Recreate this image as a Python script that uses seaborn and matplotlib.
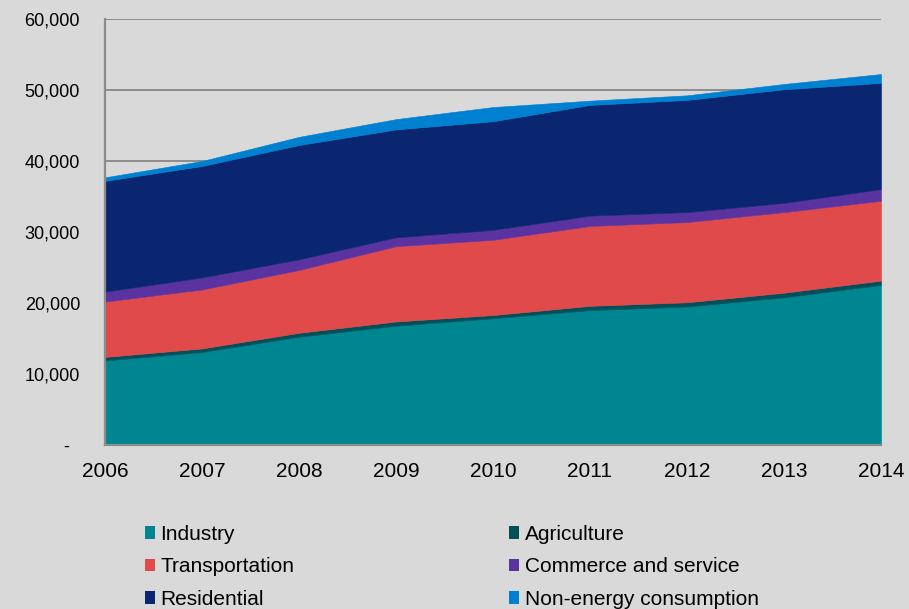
import matplotlib
matplotlib.use("Agg")
import matplotlib.pyplot as plt
from matplotlib.patches import Patch
from matplotlib.ticker import FuncFormatter, MultipleLocator
import seaborn as sns

# Final energy consumption by sector (thousand tce)
years = [2006, 2007, 2008, 2009, 2010, 2011, 2012, 2013, 2014]
industry = [11900, 13100, 15250, 16800, 17850, 19000, 19500, 20800, 22550]
agriculture = [500, 500, 550, 600, 450, 600, 600, 650, 600]
transportation = [7800, 8300, 8850, 10600, 10600, 11250, 11300, 11350, 11250]
commerce = [1400, 1700, 1500, 1250, 1400, 1450, 1400, 1300, 1650]
residential = [15600, 15700, 16100, 15200, 15300, 15600, 15800, 16000, 14950]
non_energy = [500, 700, 1150, 1450, 2000, 600, 650, 750, 1250]

series_names = ["Industry", "Agriculture", "Transportation",
                "Commerce and service", "Residential", "Non-energy consumption"]
series_values = [industry, agriculture, transportation, commerce, residential, non_energy]
series_colors = ["#008691", "#00505a", "#e04a4a", "#5b33a0", "#0a2670", "#0080d0"]

BG = "#d9d9d9"
GRID = "#8c8c8c"

sns.set_theme(style="whitegrid")
plt.rcParams["font.family"] = ["Liberation Sans", "DejaVu Sans"]

fig = plt.figure(figsize=(9.09, 6.09), dpi=100, facecolor=BG)
ax = fig.add_axes([105 / 909, 1 - 445 / 609, (881 - 105) / 909, (445 - 19) / 609])
ax.set_facecolor(BG)

ax.stackplot(years, *series_values, colors=series_colors, labels=series_names,
             linewidth=0.4, edgecolor="face", zorder=3)

ax.set_xlim(years[0], years[-1])
ax.set_ylim(0, 60000)
ax.set_xticks(years)
ax.set_xticklabels([str(y) for y in years])
ax.yaxis.set_major_locator(MultipleLocator(10000))
ax.yaxis.set_major_formatter(FuncFormatter(lambda v, p: "-  " if v == 0 else f"{int(v):,}"))

ax.grid(axis="y", color=GRID, linewidth=1.4, zorder=1)
ax.grid(axis="x", visible=False)
for side in ["top", "right"]:
    ax.spines[side].set_visible(False)
for side in ["left", "bottom"]:
    ax.spines[side].set_visible(True)
    ax.spines[side].set_color(GRID)
    ax.spines[side].set_linewidth(1.6)
    ax.spines[side].set_zorder(4)

ax.tick_params(axis="y", length=0, pad=18, labelsize=13, colors="black")
ax.tick_params(axis="x", length=0, pad=12, labelsize=15, colors="black")

# Two-column legend below the plot
handles = [Patch(facecolor=c, edgecolor="none") for c in series_colors]
left_idx = [0, 2, 4]
right_idx = [1, 3, 5]
for idx, xpos in [(left_idx, 145 / 909), (right_idx, 509 / 909)]:
    leg = fig.legend([handles[i] for i in idx], [series_names[i] for i in idx],
                     loc="center left", bbox_to_anchor=(xpos, 1 - 567 / 609),
                     frameon=False, fontsize=15, borderpad=0, borderaxespad=0,
                     handlelength=0.5, handleheight=0.55, handletextpad=0.25,
                     labelspacing=0.65)
    for t in leg.get_texts():
        t.set_color("black")

fig.savefig("out.png", dpi=100, facecolor=BG)
